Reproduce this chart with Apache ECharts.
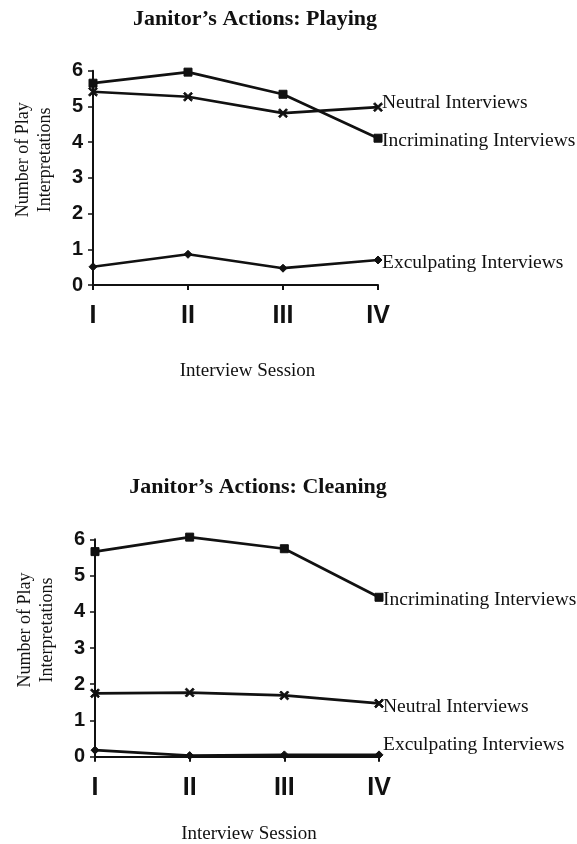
<!DOCTYPE html>
<html>
<head>
<meta charset="utf-8">
<script src="https://cdn.jsdelivr.net/npm/echarts@6/dist/echarts.min.js"></script>
<style>
html,body{margin:0;padding:0;background:#fff;}
#c{width:577px;height:844px;}
</style>
</head>
<body>
<div id="c"></div>
<script>
// ---- data ----
var sessions = ['I', 'II', 'III', 'IV'];
var yTicks = [0, 1, 2, 3, 4, 5, 6];
var seriesNames = ['Incriminating Interviews', 'Neutral Interviews', 'Exculpating Interviews'];
var titles = ["Janitor\u2019s Actions: Playing", "Janitor\u2019s Actions: Cleaning"];
var xName = 'Interview Session';
var yName = 'Number of Play\nInterpretations';

var playIncrim  = [5.65, 5.96, 5.34, 4.11];
var playNeutral = [5.41, 5.27, 4.81, 4.98];
var playExcul   = [0.51, 0.86, 0.47, 0.70];

var cleanIncrim  = [5.66, 6.06, 5.74, 4.40];
var cleanNeutral = [1.75, 1.77, 1.69, 1.47];
var cleanExcul   = [0.18, 0.03, 0.05, 0.05];

// ---- styling ----
var serif = '"Liberation Serif", "Times New Roman", serif';
var sans = '"Liberation Sans", Arial, sans-serif';
var ink = '#111';
var xMark = 'path://M0 1.5 L1.5 0 L5 3.5 L8.5 0 L10 1.5 L6.5 5 L10 8.5 L8.5 10 L5 6.5 L1.5 10 L0 8.5 L3.5 5 Z';
var symbols = ['rect', xMark, 'diamond'];
var symSizes = [8, 9, 8];

function xAxisCfg(gi) {
  return {
    type: 'category', gridIndex: gi, data: sessions, boundaryGap: false,
    axisLine: { lineStyle: { color: ink, width: 2 } },
    axisTick: { show: true, length: 5, lineStyle: { color: ink, width: 2 } },
    axisLabel: { color: ink, fontFamily: sans, fontWeight: 'bold', fontSize: 25, margin: 19 },
    name: xName, nameLocation: 'middle', nameGap: gi === 0 ? 77 : 68,
    nameTextStyle: { color: ink, fontFamily: serif, fontSize: 19, padding: [0, 0, 0, 24] }
  };
}
function yAxisCfg(gi) {
  return {
    type: 'value', gridIndex: gi, min: yTicks[0], max: yTicks[yTicks.length - 1], interval: 1,
    splitLine: { show: false },
    axisLine: { show: true, lineStyle: { color: ink, width: 2 } },
    axisTick: { show: true, length: 5, lineStyle: { color: ink, width: 1.5 } },
    axisLabel: { color: ink, fontFamily: sans, fontWeight: 'bold', fontSize: 20, margin: 10 },
    name: yName, nameLocation: 'middle', nameRotate: 90, nameGap: 37,
    nameTextStyle: { color: ink, fontFamily: serif, fontSize: 18, lineHeight: 22, padding: [0, 0, 0, 36] }
  };
}
function lineSeries(gi, idx, data, labelOffset) {
  return {
    type: 'line', name: seriesNames[idx], xAxisIndex: gi, yAxisIndex: gi,
    data: data, clip: false,
    symbol: symbols[idx], symbolSize: symSizes[idx], showAllSymbol: true,
    lineStyle: { color: ink, width: 2.7 },
    itemStyle: { color: ink, borderColor: ink },
    endLabel: {
      show: true, formatter: seriesNames[idx], distance: 4, offset: labelOffset,
      color: ink, fontFamily: serif, fontSize: 19.5
    },
    emphasis: { disabled: true },
    animation: false
  };
}

var chart = echarts.init(document.getElementById('c'), null, { renderer: 'canvas' });
chart.setOption({
  backgroundColor: '#fff',
  animation: false,
  title: [
    { text: titles[0], left: 250, top: 3, textAlign: 'center',
      textStyle: { fontFamily: serif, fontWeight: 'bold', fontSize: 22, color: ink } },
    { text: titles[1], left: 253, top: 471, textAlign: 'center',
      textStyle: { fontFamily: serif, fontWeight: 'bold', fontSize: 22, color: ink } }
  ],
  grid: [
    { left: 93, width: 285, top: 70.7, height: 214.3, containLabel: false, outerBoundsMode: 'none' },
    { left: 95, width: 284, top: 539.3, height: 217.4, containLabel: false, outerBoundsMode: 'none' }
  ],
  xAxis: [xAxisCfg(0), xAxisCfg(1)],
  yAxis: [yAxisCfg(0), yAxisCfg(1)],
  series: [
    lineSeries(0, 0, playIncrim, [0, 3]),
    lineSeries(0, 1, playNeutral, [0, -4]),
    lineSeries(0, 2, playExcul, [0, 3]),
    lineSeries(1, 0, cleanIncrim, [0, 3]),
    lineSeries(1, 1, cleanNeutral, [0, 3]),
    lineSeries(1, 2, cleanExcul, [0, -10])
  ]
});
</script>
</body>
</html>
